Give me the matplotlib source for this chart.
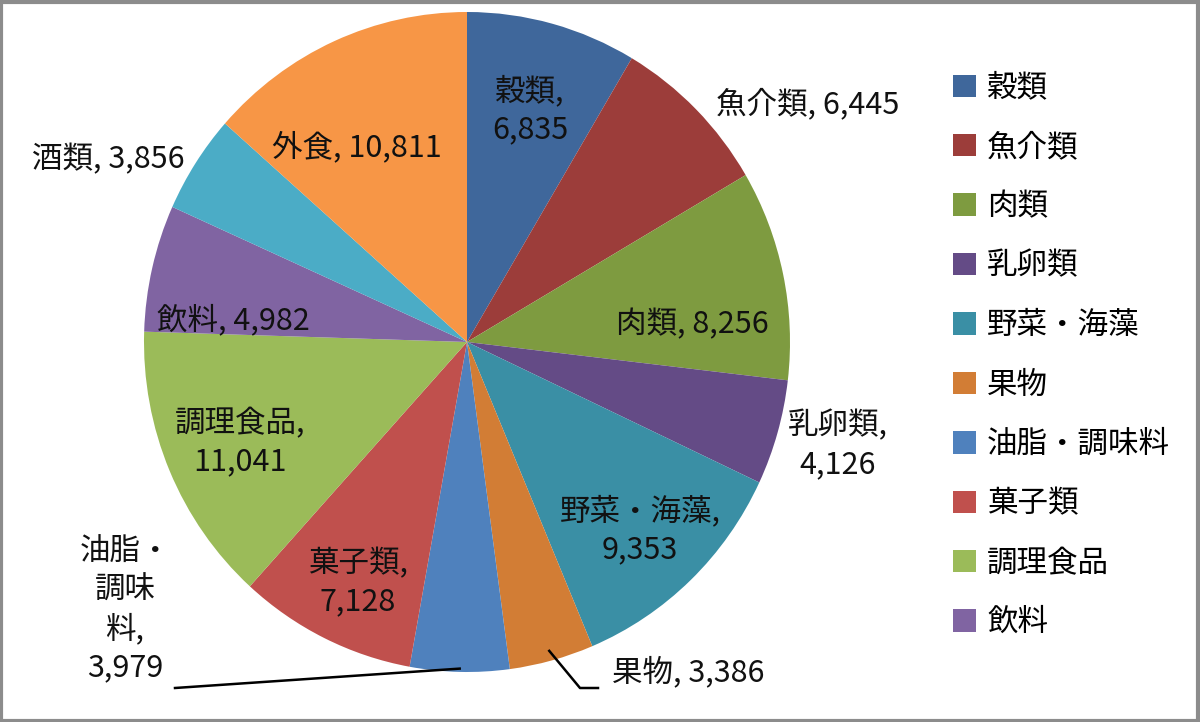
import numpy as np
import matplotlib.pyplot as plt
from matplotlib.patches import Rectangle

plt.rcParams['font.family'] = ['Noto Sans CJK JP', 'DejaVu Sans']

# データ
names = ['穀類', '魚介類', '肉類', '乳卵類', '野菜・海藻', '果物',
         '油脂・調味料', '菓子類', '調理食品', '飲料', '酒類', '外食']
values = [6835, 6445, 8256, 4126, 9353, 3386, 3979, 7128, 11041, 4982, 3856, 10811]
label_text = ['穀類,\n6,835', '魚介類, 6,445', '肉類, 8,256', '乳卵類,\n4,126',
              '野菜・海藻,\n9,353', '果物, 3,386', '油脂・\n調味\n料,\n3,979',
              '菓子類,\n7,128', '調理食品,\n11,041', '飲料, 4,982', '酒類, 3,856',
              '外食, 10,811']
colors = ['#3F679B', '#9C3D3A', '#7E9B40', '#644B86', '#3A8FA5', '#D27D35',
          '#4F81BD', '#C0504D', '#9BBB59', '#8064A2', '#4BACC6', '#F79646']

# ラベル位置（ピクセル） -> 円の単位へ変換
label_px = [(530, 110), (808, 104), (692, 325), (838, 445), (640, 530), (688, 672),
            (125, 610), (358, 583), (240, 443), (233, 320), (108, 160), (357, 147)]
cx, cy, Rx, Ry = 467, 342, 323, 330

fig = plt.figure(figsize=(12, 7.22), dpi=100)
ax = fig.add_axes([(cx - Rx) / 1200, 1 - (cy + Ry) / 722, 2 * Rx / 1200, 2 * Ry / 722])
wedges, _ = ax.pie(values, colors=colors, startangle=90, counterclock=False,
                   radius=1, wedgeprops=dict(linewidth=0))
ax.set_xlim(-1, 1)
ax.set_ylim(-1, 1)
ax.set_aspect('auto')
ax.axis('off')

fs = 22
for i, (w, txt) in enumerate(zip(wedges, label_text)):
    lx = (label_px[i][0] - cx) / Rx
    ly = (cy - label_px[i][1]) / Ry
    ax.text(lx, ly, txt, ha='center', va='center', fontsize=fs,
            linespacing=1.3, color='#111111')

# 引き出し線
def edge(w, frac=0.98):
    a = np.deg2rad((w.theta1 + w.theta2) / 2)
    return frac * np.cos(a), frac * np.sin(a)

ex, ey = edge(wedges[5], 0.97)
ax.plot([ex, (580 - cx) / Rx, (598 - cx) / Rx],
        [ey, (cy - 688) / Ry, (cy - 688) / Ry], color='black', lw=1.8, clip_on=False)
ex, ey = edge(wedges[6], 0.99)
ax.plot([ex, (175 - cx) / Rx], [ey, (cy - 688) / Ry], color='black', lw=1.8, clip_on=False)

# 凡例（10項目のみ表示）
leg = fig.legend(wedges[:10], names[:10], loc='upper left',
                 bbox_to_anchor=(926 / 1200, 1 - 45 / 722), frameon=False,
                 fontsize=fs, handlelength=0.75, handleheight=0.75,
                 labelspacing=0.93, handletextpad=0.35)

fig.patches.append(Rectangle((0.001, 0.002), 0.997, 0.995, transform=fig.transFigure,
                             fill=False, edgecolor='#8c8c8c', lw=3))

fig.savefig('out.png', dpi=100)
